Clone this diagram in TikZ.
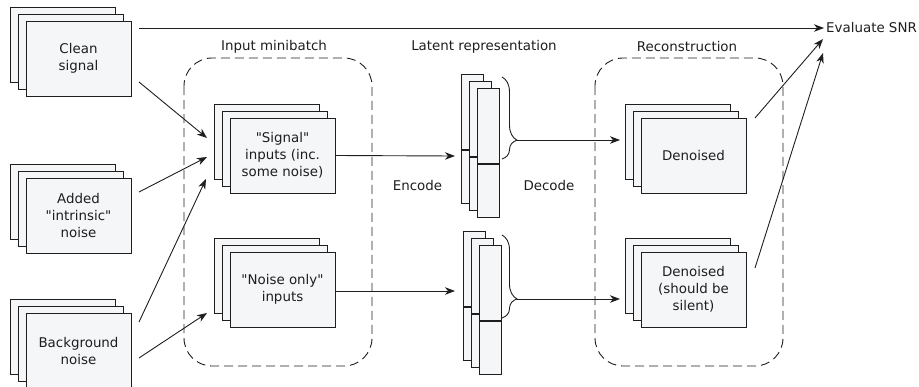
\documentclass[tikz,border=0pt]{standalone}
\usepackage{fontspec}
\setmainfont{DejaVu Sans}[Ligatures=TeXOff]
\usetikzlibrary{arrows.meta,decorations.pathreplacing,calc}
\definecolor{cardfill}{RGB}{245,246,248}
\definecolor{ln}{RGB}{30,30,30}
\newcommand{\cardstack}[3]{%
  \node[card] (#1-b) at ($(#2)+(-16,-14)$) {};
  \node[card] (#1-m) at ($(#2)+(-8,-7)$) {};
  \node[card] (#1) at (#2) {#3};}
\newcommand{\latentbar}[3]{%
  \node[bar, minimum height=75pt, anchor=north] (#1u) at (#2,#3) {};
  \node[bar, minimum height=53pt, anchor=north] (#1l) at (#1u.south) {};}
\begin{document}
\begin{tikzpicture}[x=1pt,y=-1pt,
  txt/.style={font=\fontsize{13.4}{17}\selectfont, text=ln},
  card/.style={txt, draw=ln, fill=cardfill, line width=1pt, minimum width=105pt,
    minimum height=75pt, inner sep=0pt, align=center},
  bar/.style={draw=ln, fill=cardfill, line width=1pt, minimum width=22pt, inner sep=0pt},
  grp/.style={draw=ln, line width=0.9pt, dash pattern=on 9pt off 5pt, rounded corners=28pt},
  arr/.style={draw=ln, line width=0.9pt, -{Stealth[length=10pt,width=7.5pt,inset=3pt]}},
  brc/.style={draw=ln, line width=0.9pt, decorate}
]
\useasboundingbox (0,0) rectangle (919,386);

% groups
\draw[grp] (184,58) rectangle (372,366);
\draw[grp] (595,58) rectangle (783,366);
\node[txt] (lblin) at (274,47) {Input minibatch};
\node[txt] (lbllat) at (484,47) {Latent representation};
\node[txt] (lblrec) at (687,47) {Reconstruction};
\node[txt] (enc) at (417.5,186) {Encode};
\node[txt] (dec) at (549,186) {Decode};

% sources
\cardstack{clean}{78.5,58.5}{Clean\\signal}
\cardstack{added}{78.5,215.5}{Added\\"intrinsic"\\noise}
\cardstack{bg}{78.5,350.5}{Background\\noise}

% inputs
\cardstack{sig}{282.5,155.5}{"Signal"\\inputs (inc.\\some noise)}
\cardstack{noi}{282.5,289.5}{"Noise only"\\inputs}

% outputs
\cardstack{den}{693.5,155.5}{Denoised}
\cardstack{dens}{693.5,289.5}{Denoised\\(should be\\silent)}

% latent
\latentbar{la3}{472}{74}
\latentbar{la2}{480}{81}
\latentbar{la1}{488}{88}
\latentbar{lb3}{474}{231}
\latentbar{lb2}{482}{238}
\latentbar{lb1}{490}{245}

% evaluate
\node[txt, anchor=west, inner sep=2pt] (snr) at (824,28) {Evaluate SNR};

% coordinates
\coordinate (c0) at (139,28);
\coordinate (c1) at (139,82);
\coordinate (c1e) at (207,138);
\coordinate (a1) at (139,192);
\coordinate (a1e) at (207,157);
\coordinate (b1) at (139,322);
\coordinate (b1e) at (206,179);
\coordinate (b2) at (139,358);
\coordinate (b2e) at (207,313);
\coordinate (e1e) at (455,156);
\coordinate (e2e) at (455,291);
\coordinate (brA1) at (502,77);
\coordinate (brA2) at (502,159);
\coordinate (brB1) at (502,235);
\coordinate (brB2) at (502,318);
\coordinate (tipA) at (517,140);
\coordinate (tipB) at (517,299);
\coordinate (d1e) at (620,140);
\coordinate (d2e) at (620,299);
\coordinate (o1) at (755,118);
\coordinate (o2) at (755,268);
\coordinate (s1) at (823,39);
\coordinate (s2) at (823,53);

% braces
\draw[brc, decoration={brace, amplitude=15pt, aspect=0.77}] (brA1) -- (brA2);
\draw[brc, decoration={brace, amplitude=15pt, aspect=0.77}] (brB1) -- (brB2);

% connectors
\draw[arr] (c0) -- (snr.west);
\draw[arr] (c1) -- (c1e);
\draw[arr] (a1) -- (a1e);
\draw[arr] (b1) -- (b1e);
\draw[arr] (b2) -- (b2e);
\draw[arr] (sig.east) -- (e1e);
\draw[arr] (noi.east |- e2e) -- (e2e);
\draw[arr] (tipA) -- (d1e);
\draw[arr] (tipB) -- (d2e);
\draw[arr] (o1) -- (s1);
\draw[arr] (o2) -- (s2);
\end{tikzpicture}
\end{document}
